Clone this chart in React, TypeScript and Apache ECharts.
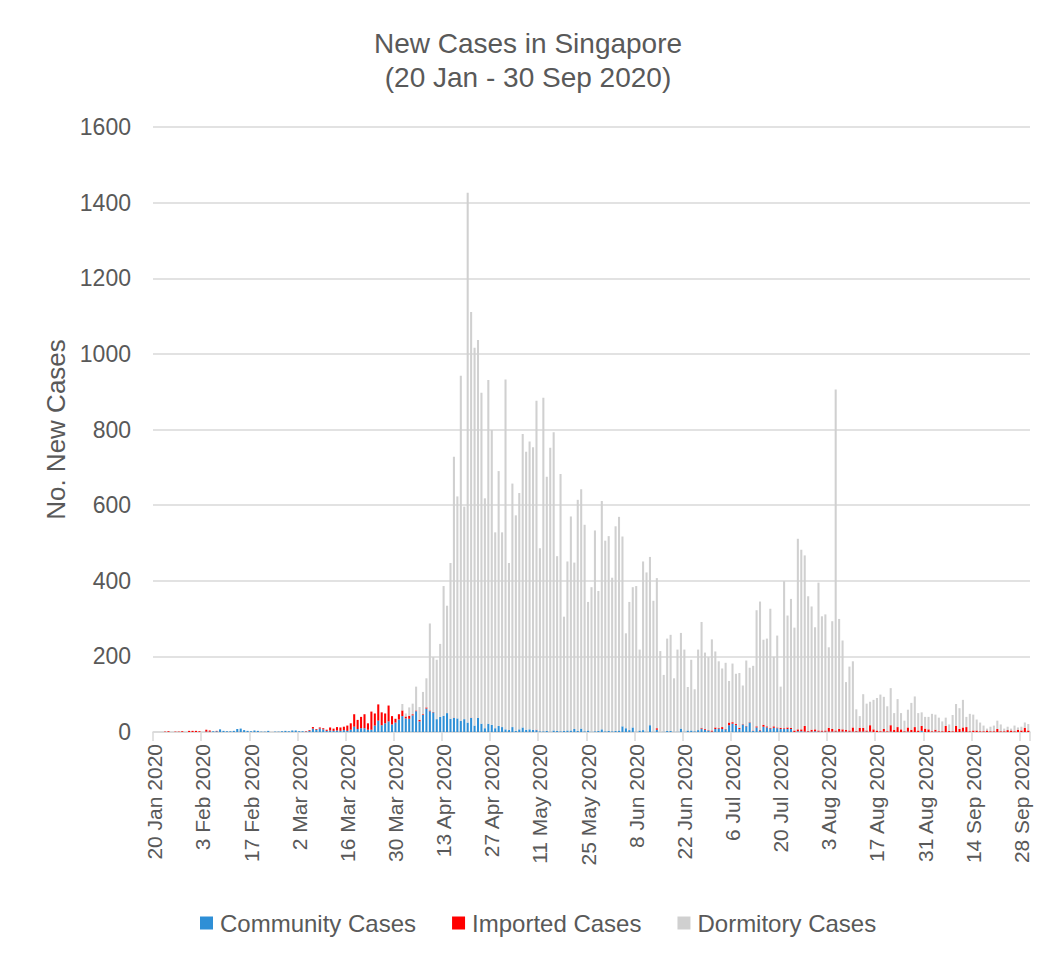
import React, { useEffect, useRef } from "react";
import * as echarts from "echarts";

// Daily new cases, 20 Jan 2020 .. 30 Sep 2020 (255 days)
const START = { year: 2020, month: 0, day: 20 };
const DAY_COUNT = 255;
const MONTHS = ["Jan", "Feb", "Mar", "Apr", "May", "Jun", "Jul", "Aug", "Sep", "Oct", "Nov", "Dec"];

const communityCases = [
  // Jan 20-31
  0, 0, 0, 0, 0, 0, 0, 0, 0, 0, 0, 0,
  // Feb
  0, 0, 0, 1, 1, 2, 2, 7, 3, 2, 2, 3, 8, 9, 5, 3, 2, 4, 3, 1, 1, 3, 0, 1, 1, 2, 3, 2, 4,
  // Mar
  4, 2, 2, 1, 3, 9, 6, 9, 7, 3, 4, 3, 4, 3, 5, 3, 6, 14, 8, 10, 10, 6, 6, 17, 30, 18, 23, 28, 20, 25, 33,
  // Apr
  42, 36, 35, 44, 55, 28, 45, 62, 55, 52, 34, 40, 43, 50, 35, 37, 36, 29, 34, 25, 37, 17, 37, 22, 10, 22, 19, 10, 16, 13,
  // May
  7, 5, 13, 3, 7, 12, 6, 7, 6, 5, 2, 2, 3, 1, 4, 3, 2, 3, 4, 4, 8, 3, 9, 2, 4, 1, 2, 3, 7, 2, 3,
  // Jun
  2, 3, 4, 15, 10, 5, 12, 1, 4, 5, 1, 18, 1, 6, 0, 1, 3, 3, 1, 1, 9, 1, 4, 4, 2, 5, 9, 6, 4, 1,
  // Jul
  8, 9, 8, 7, 18, 22, 18, 8, 20, 15, 25, 3, 12, 4, 14, 12, 9, 11, 10, 8, 8, 8, 8, 0, 2, 2, 1, 1, 1, 2, 1,
  // Aug
  1, 1, 1, 1, 1, 1, 1, 1, 1, 1, 1, 1, 1, 1, 1, 0, 0, 0, 1, 0, 1, 0, 0, 0, 0, 1, 0, 0, 0, 3, 0,
  // Sep
  0, 0, 1, 0, 0, 0, 0, 0, 0, 0, 1, 0, 0, 0, 0, 0, 0, 0, 0, 0, 0, 0, 0, 0, 0, 0, 0, 0, 0, 0,
];

const importedCases = [
  // Jan 20-31
  0, 0, 0, 1, 2, 0, 1, 1, 2, 0, 3, 3,
  // Feb
  3, 2, 0, 5, 3, 0, 1, 0, 0, 0, 0, 0, 0, 0, 0, 0, 0, 0, 0, 0, 0, 0, 0, 0, 0, 0, 0, 0, 0,
  // Mar
  0, 0, 0, 1, 2, 4, 2, 3, 3, 3, 8, 6, 9, 9, 9, 14, 17, 33, 24, 30, 37, 17, 48, 32, 43, 34, 26, 42, 22, 10, 14,
  // Apr
  15, 5, 8, 3, 2, 4, 2, 3, 2, 1, 0, 0, 0, 0, 0, 1, 0, 0, 0, 0, 1, 0, 0, 0, 0, 0, 0, 0, 0, 0,
  // May
  0, 0, 0, 0, 0, 0, 0, 0, 0, 1, 0, 0, 0, 0, 0, 0, 0, 0, 0, 0, 0, 0, 0, 0, 0, 0, 0, 0, 0, 0, 0,
  // Jun
  0, 0, 0, 0, 0, 0, 0, 0, 0, 0, 0, 0, 0, 4, 0, 0, 0, 0, 0, 0, 0, 0, 0, 0, 0, 0, 2, 2, 1, 3,
  // Jul
  4, 2, 5, 1, 7, 4, 3, 3, 1, 1, 1, 1, 3, 2, 5, 3, 2, 4, 2, 3, 2, 4, 3, 4, 5, 5, 15, 2, 5, 5, 3,
  // Aug
  3, 3, 10, 7, 3, 7, 6, 5, 3, 11, 2, 10, 10, 3, 17, 7, 4, 2, 7, 2, 17, 6, 13, 7, 2, 11, 6, 13, 4, 13, 9,
  // Sep
  7, 2, 5, 2, 2, 16, 3, 2, 16, 8, 11, 13, 2, 4, 4, 2, 2, 4, 2, 2, 8, 2, 2, 5, 4, 2, 6, 4, 11, 4,
];

const dormitoryCases = [
  // Jan 20-31
  0, 0, 0, 0, 0, 0, 0, 0, 0, 0, 0, 0,
  // Feb
  0, 0, 0, 0, 0, 0, 0, 0, 0, 0, 0, 0, 0, 0, 0, 0, 0, 0, 0, 0, 0, 0, 0, 0, 0, 0, 0, 0, 0,
  // Mar
  0, 0, 0, 0, 0, 0, 0, 0, 0, 0, 0, 0, 0, 0, 0, 0, 0, 0, 0, 0, 0, 0, 0, 0, 0, 0, 0, 0, 0, 0, 0,
  // Apr
  17, 8, 22, 28, 63, 34, 59, 77, 230, 145, 157, 193, 343, 284, 412, 690, 587, 913, 562, 1401, 1073, 999, 1000, 875, 608, 909, 780, 518, 674, 515,
  // May
  925, 442, 644, 570, 625, 776, 735, 761, 747, 870, 484, 882, 672, 751, 789, 462, 680, 302, 447, 566, 440, 611, 633, 546, 340, 382, 531, 370, 604, 504, 515,
  // Jun
  406, 541, 565, 502, 251, 339, 371, 385, 214, 446, 421, 445, 346, 397, 214, 150, 244, 254, 141, 217, 253, 217, 115, 187, 111, 213, 280, 202, 193, 241,
  // Jul
  201, 176, 155, 175, 110, 155, 133, 145, 102, 173, 144, 171, 307, 339, 225, 232, 315, 184, 243, 109, 389, 296, 341, 272, 504, 475, 451, 356, 326, 270, 391,
  // Aug
  302, 307, 213, 285, 902, 291, 235, 126, 169, 175, 57, 31, 89, 71, 62, 78, 86, 97, 85, 66, 98, 44, 74, 43, 28, 47, 71, 81, 46, 36, 31,
  // Sep
  33, 46, 40, 36, 26, 22, 17, 43, 58, 55, 73, 27, 46, 42, 29, 23, 15, 5, 12, 15, 22, 18, 7, 9, 5, 15, 6, 10, 14, 17,
];

const yTicks = { min: 0, max: 1600, interval: 200 };

function buildDates(): string[] {
  const out: string[] = [];
  for (let i = 0; i < DAY_COUNT; i++) {
    const d = new Date(Date.UTC(START.year, START.month, START.day + i));
    out.push(`${d.getUTCDate()} ${MONTHS[d.getUTCMonth()]} ${d.getUTCFullYear()}`);
  }
  return out;
}

const COLORS = { community: "#2E8FD6", imported: "#FF0000", dormitory: "#D0D0D0" };
const TEXT = "#595959";
const FONT = "'Liberation Sans', Arial, sans-serif";

export default function App() {
  const ref = useRef<HTMLDivElement>(null);

  useEffect(() => {
    if (!ref.current) return;
    const chart = echarts.init(ref.current, undefined, { renderer: "svg" });
    const dates = buildDates();
    const barCommon = {
      type: "bar" as const,
      stack: "total",
      barCategoryGap: "40%",
      emphasis: { disabled: true },
    };
    chart.setOption({
      animation: false,
      backgroundColor: "#FFFFFF",
      textStyle: { fontFamily: FONT },
      title: {
        text: "New Cases in Singapore\n(20 Jan - 30 Sep 2020)",
        left: 523,
        textAlign: "center",
        top: 21,
        textStyle: { fontFamily: FONT, fontSize: 28, fontWeight: "normal", color: TEXT, lineHeight: 34 },
      },
      legend: {
        bottom: 16,
        left: 195,
        icon: "rect",
        itemWidth: 13,
        itemHeight: 13,
        itemGap: 36,
        textStyle: { fontFamily: FONT, fontSize: 24, color: TEXT, padding: [0, 0, 0, 2] },
        data: ["Community Cases", "Imported Cases", "Dormitory Cases"],
      },
      grid: { left: 153, right: 18, top: 127, bottom: 224, containLabel: false },
      xAxis: {
        type: "category",
        data: dates,
        boundaryGap: true,
        axisLine: { show: true, lineStyle: { color: "#D9D9D9", width: 1.5 } },
        axisTick: { show: true, interval: 13, length: 9, lineStyle: { color: "#D9D9D9", width: 1.5 } },
        axisLabel: {
          interval: 13,
          rotate: 90,
          margin: 12,
          fontFamily: FONT,
          fontSize: 21,
          color: TEXT,
        },
        splitLine: { show: false },
      },
      yAxis: {
        type: "value",
        min: yTicks.min,
        max: yTicks.max,
        interval: yTicks.interval,
        name: "No. New Cases",
        nameLocation: "middle",
        nameGap: 83,
        nameTextStyle: { fontFamily: FONT, fontSize: 26, color: TEXT },
        axisLine: { show: false },
        axisTick: { show: false },
        axisLabel: {
          fontFamily: FONT,
          fontSize: 23,
          color: TEXT,
          margin: 22,
          formatter: (v: number) => String(v),
        },
        splitLine: { lineStyle: { color: "#D9D9D9", width: 1.5 } },
      },
      series: [
        { ...barCommon, name: "Community Cases", data: communityCases, itemStyle: { color: COLORS.community } },
        { ...barCommon, name: "Imported Cases", data: importedCases, itemStyle: { color: COLORS.imported } },
        { ...barCommon, name: "Dormitory Cases", data: dormitoryCases, itemStyle: { color: COLORS.dormitory } },
      ],
    });
    return () => chart.dispose();
  }, []);

  return (
    <div
      ref={ref}
      style={{ position: "absolute", left: 0, top: 0, width: 1048, height: 956 }}
    />
  );
}
